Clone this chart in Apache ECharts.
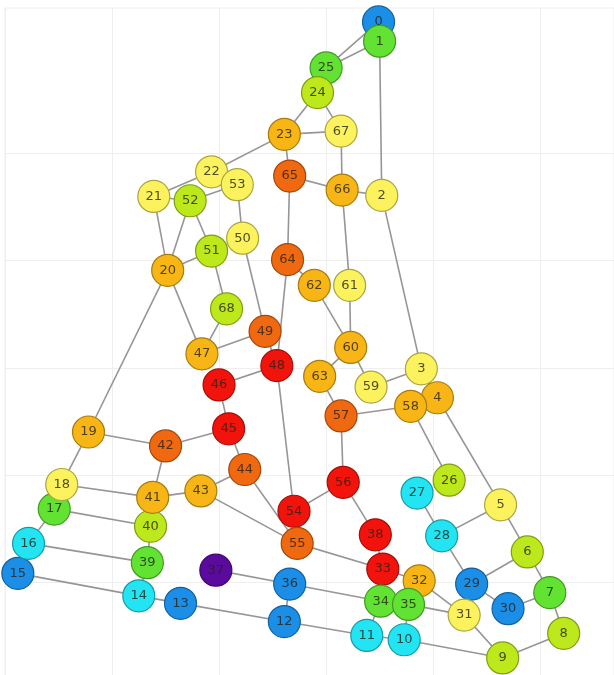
<!DOCTYPE html>
<html>
<head>
<meta charset="utf-8">
<script src="https://cdn.jsdelivr.net/npm/echarts@6/dist/echarts.min.js"></script>
<style>
html,body{margin:0;padding:0;background:#fff;}
#main{width:614px;height:675px;}
</style>
</head>
<body>
<div id="main"></div>
<script>
// node positions (data units; grid step = 1), indexed by node id 0..68
const nodeX = [3.49,3.50,3.52,3.89,4.04,4.63,4.88,5.09,5.22,4.65,
               3.73,3.38,2.61,1.64,1.25,0.12,0.22,0.46,0.53,0.78,
               1.52,1.39,1.93,2.61,2.92,3.00,4.15,3.85,4.08,4.36,
               4.70,4.29,3.87,3.53,3.51,3.77,2.66,1.97,3.46,1.33,
               1.36,1.38,1.50,1.83,2.24,2.09,2.00,1.84,2.54,2.43,
               2.22,1.93,1.73,2.17,2.70,2.73,3.16,3.14,3.79,3.42,
               3.23,3.22,2.89,2.94,2.64,2.66,3.15,3.14,2.07];
const nodeY = [6.23,6.05,4.61,2.99,2.72,1.72,1.28,0.90,0.52,0.29,
               0.46,0.50,0.63,0.80,0.87,1.08,1.36,1.68,1.91,2.40,
               3.91,4.60,4.83,5.18,5.57,5.80,1.95,1.83,1.43,0.98,
               0.75,0.69,1.01,1.12,0.82,0.79,0.98,1.11,1.44,1.18,
               1.52,1.79,2.27,1.85,2.05,2.43,2.84,3.13,3.02,3.34,
               4.21,4.09,4.56,4.71,1.66,1.36,1.93,2.55,2.64,2.82,
               3.19,3.77,3.77,2.92,4.01,4.79,4.66,5.21,3.55];
// colour level of each node (0 = purple ... 8 = red)
const nodeLevel = [1,3,5,5,6,5,4,3,4,4,
                   2,2,1,1,2,1,2,3,5,6,
                   6,5,5,6,4,3,4,2,2,1,
                   1,5,6,8,3,3,1,0,8,3,
                   4,6,7,6,7,8,8,6,8,7,
                   5,4,4,5,8,7,8,7,6,5,
                   6,5,6,6,7,7,6,5,4];
const edges = [
  [0,1],[0,25],[1,25],[1,2],[25,24],[24,23],[24,67],[23,67],[23,22],[23,65],
  [67,66],[65,66],[66,2],[66,61],[65,64],[64,62],[64,48],[62,60],[61,60],[60,63],
  [60,59],[59,3],[2,3],[3,4],[4,58],[4,5],[58,57],[58,26],[57,63],[57,56],
  [56,54],[56,38],[38,33],[33,55],[33,32],[33,34],[32,31],[34,35],[35,31],[35,10],
  [34,11],[36,34],[36,12],[37,36],[12,11],[11,10],[10,9],[9,31],[9,8],[8,7],
  [7,30],[7,6],[6,5],[6,29],[29,30],[29,28],[28,5],[27,28],[22,21],[22,53],
  [21,52],[52,53],[21,20],[52,20],[52,51],[53,50],[20,51],[51,68],[50,49],[68,47],
  [20,47],[20,19],[47,49],[49,48],[48,46],[46,45],[48,54],[54,55],[45,42],[45,44],
  [42,19],[42,41],[19,18],[18,41],[18,17],[17,40],[17,16],[41,43],[41,40],[43,44],
  [43,55],[44,55],[40,39],[16,39],[16,15],[39,14],[15,14],[14,13],[13,12]
];
// horizontal grid values shown in the reference
const yGridValues = [0, 1, 2, 3, 4, 5];
// drawing order of the nodes (later = on top)
const drawOrder = [0,1,2,3,4,5,6,7,8,9,10,11,12,13,14,15,16,17,18,19,20,21,22,23,
                   25,24,26,27,28,29,30,31,32,33,34,35,36,37,38,39,40,41,42,43,44,45,46,47,
                   49,48,50,51,52,53,54,55,56,57,58,59,60,61,62,63,64,65,66,67,68];
const palette = ['#5b0a9e','#1b8fe8','#22e4f2','#62e232','#bde81c',
                 '#fbf25e','#f7b616','#f0680f','#f2140c'];

function darken(hex, f) {
  const n = parseInt(hex.slice(1), 16);
  const r = Math.round(((n >> 16) & 255) * f), g = Math.round(((n >> 8) & 255) * f), b = Math.round((n & 255) * f);
  return 'rgb(' + r + ',' + g + ',' + b + ')';
}

const chart = echarts.init(document.getElementById('main'), null, {renderer:'canvas'});
const nodes = drawOrder.map(function(id){
  const c = palette[nodeLevel[id]];
  return {
    name: String(id),
    value: [nodeX[id], nodeY[id]],
    itemStyle: {color: c, borderColor: darken(c, 0.68), borderWidth: 1.2}
  };
});
const links = edges.map(function(e){ return {source: String(e[0]), target: String(e[1])}; });

chart.setOption({
  animation: false,
  backgroundColor: '#ffffff',
  grid: {left: 5, top: 8, right: 0, bottom: -14, outerBoundsMode: 'none', containLabel: false,
         show: true, borderColor: '#eeeeee', borderWidth: 1},
  xAxis: {type: 'value', min: 0, max: 5.69, interval: 1,
    axisLine: {show: false}, axisTick: {show: false}, axisLabel: {show: false},
    splitLine: {show: true, lineStyle: {color: '#eeeeee', width: 1}}},
  yAxis: {type: 'value', min: 0, max: 6.36, interval: 1,
    axisLine: {show: false},
    axisTick: {show: false, customValues: yGridValues},
    axisLabel: {show: false, customValues: yGridValues},
    splitLine: {show: true, lineStyle: {color: '#eeeeee', width: 1}}},
  series: [{
    type: 'graph',
    coordinateSystem: 'cartesian2d',
    symbol: 'circle',
    symbolSize: 32,
    data: nodes,
    links: links,
    label: {show: true, position: 'inside', color: 'rgba(40,35,25,0.8)',
            fontFamily: 'DejaVu Sans', fontSize: 13},
    lineStyle: {color: '#969696', width: 1.6, opacity: 1, curveness: 0},
    emphasis: {disabled: true}
  }]
});
</script>
</body>
</html>
